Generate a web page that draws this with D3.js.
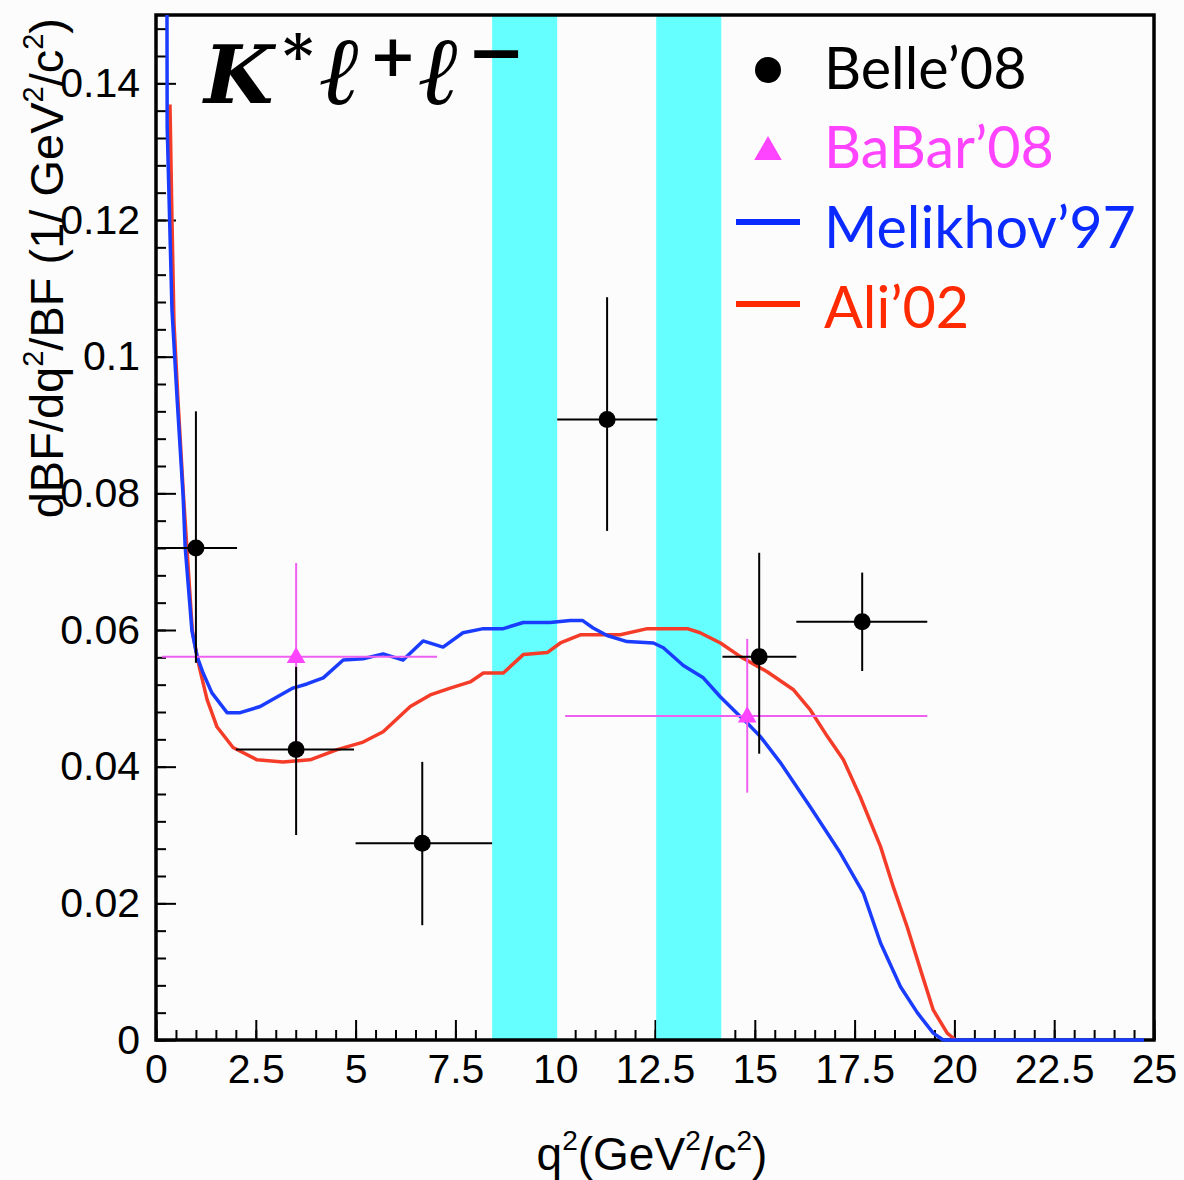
<!DOCTYPE html>
<html>
<head>
<meta charset="utf-8">
<script src="https://cdn.jsdelivr.net/npm/d3@7"></script>
<style>
  html, body { margin: 0; padding: 0; background: #fcfcfc; }
  svg { display: block; }
</style>
</head>
<body>
<svg id="chart" width="1184" height="1180"></svg>
<script>
// q^2 windows vetoed around the charmonium resonances (GeV^2/c^2)
const vetoBands = [[8.42, 10.05], [12.53, 14.16]];

// Belle'08 measurements: bin centre, value, bin edges, error bar ends
const belleX    = [1.0, 3.51, 6.67, 11.30, 15.11, 17.69];
const belleY    = [0.0720, 0.0425, 0.0288, 0.0908, 0.0561, 0.0612];
const belleXLo  = [0.0, 2.0, 5.0, 10.05, 14.19, 16.04];
const belleXHi  = [2.03, 4.96, 8.42, 12.56, 16.04, 19.32];
const belleYLo  = [0.0552, 0.0300, 0.0168, 0.0745, 0.0419, 0.0540];
const belleYHi  = [0.0920, 0.0546, 0.0407, 0.1087, 0.0713, 0.0684];

// BaBar'08 measurements
const babarX    = [3.51, 14.81];
const babarY    = [0.0561, 0.0474];
const babarXLo  = [0.15, 10.25];
const babarXHi  = [7.04, 19.32];
const babarYLo  = [0.0428, 0.0362];
const babarYHi  = [0.0698, 0.0587];

// Melikhov'97 prediction (q^2, dBF/dq^2/BF)
const melikhovQ2 = [0.26, 0.28, 0.40, 0.53, 0.68, 0.73, 0.90, 1.03, 1.18, 1.40, 1.78, 2.11, 2.61, 3.03, 3.43, 3.78, 4.19, 4.69, 5.19, 5.69, 6.19, 6.69, 7.19, 7.69, 8.20, 8.70, 9.20, 9.87, 10.38, 10.68, 10.95, 11.30, 11.80, 12.46, 12.71, 13.21, 13.71, 14.14, 14.64, 14.81, 15.14, 15.64, 16.39, 17.14, 17.72, 18.15, 18.65, 19.07, 19.47, 19.72, 24.75];
const melikhovDB = [0.2000, 0.1337, 0.1069, 0.0937, 0.0795, 0.0722, 0.0599, 0.0561, 0.0537, 0.0508, 0.0479, 0.0479, 0.0488, 0.0502, 0.0515, 0.0521, 0.0530, 0.0556, 0.0558, 0.0565, 0.0556, 0.0584, 0.0575, 0.0596, 0.0602, 0.0602, 0.0611, 0.0611, 0.0614, 0.0614, 0.0603, 0.0592, 0.0583, 0.0581, 0.0574, 0.0548, 0.0530, 0.0502, 0.0473, 0.0464, 0.0444, 0.0406, 0.0341, 0.0274, 0.0215, 0.0142, 0.0078, 0.0040, 0.0010, 0.0000, 0.0000];

// Ali'02 prediction
const aliQ2 = [0.35, 0.40, 0.45, 0.55, 0.69, 0.91, 1.03, 1.10, 1.28, 1.53, 1.93, 2.53, 3.18, 3.86, 4.54, 5.19, 5.69, 6.37, 6.87, 7.37, 7.87, 8.20, 8.70, 9.20, 9.80, 10.13, 10.63, 11.63, 12.31, 13.31, 13.63, 14.14, 14.64, 15.31, 15.96, 16.39, 16.82, 17.22, 17.64, 18.15, 18.47, 18.82, 19.15, 19.47, 19.82, 20.03];
const aliDB = [0.1369, 0.1201, 0.1050, 0.0937, 0.0795, 0.0599, 0.0561, 0.0542, 0.0498, 0.0458, 0.0428, 0.0410, 0.0407, 0.0410, 0.0425, 0.0436, 0.0451, 0.0488, 0.0505, 0.0515, 0.0524, 0.0537, 0.0537, 0.0564, 0.0567, 0.0581, 0.0593, 0.0593, 0.0602, 0.0602, 0.0596, 0.0581, 0.0561, 0.0539, 0.0513, 0.0483, 0.0444, 0.0410, 0.0356, 0.0283, 0.0224, 0.0165, 0.0103, 0.0044, 0.0010, 0.0000];

// Axis ticks
const xMajorTicks = [0, 2.5, 5, 7.5, 10, 12.5, 15, 17.5, 20, 22.5, 25];
const xTickLabels = ["0", "2.5", "5", "7.5", "10", "12.5", "15", "17.5", "20", "22.5", "25"];
const yMajorTicks = [0, 0.02, 0.04, 0.06, 0.08, 0.1, 0.12, 0.14];
const yTickLabels = ["0", "0.02", "0.04", "0.06", "0.08", "0.1", "0.12", "0.14"];

const legendLabels = ["Belle\u201908", "BaBar\u201908", "Melikhov\u201997", "Ali\u201902"];

const COL = {
  belle: "#000000",
  babar: "#ff44ff",
  babarBar: "#f060f0",
  melikhov: "#1a3cff",
  ali: "#f43c28",
  band: "#66ffff",
  legMelikhov: "#0a2aff",
  legAli: "#ff2a00"
};

const svg = d3.select("#chart");
const L = 156, R = 1154, T = 15, B = 1040;

const x = d3.scaleLinear().domain([0, 25]).range([L, R]);
const y = d3.scaleLinear().domain([0, 0.15]).range([B, T]);

svg.append("defs").append("clipPath").attr("id", "plotClip")
  .append("rect").attr("x", L).attr("y", T).attr("width", R - L + 1).attr("height", B - T + 3);

const tickFont = "'Liberation Sans', Arial, Helvetica, sans-serif";

// minor and major ticks, pointing into the frame
const xMinor = d3.range(0, 25.001, 0.5);
const yMinor = d3.range(0, 0.1481, 0.004);

svg.append("g").attr("transform", `translate(0,${B})`)
  .call(d3.axisBottom(x).tickValues(xMinor).tickSize(-10).tickFormat(""))
  .call(g => g.select(".domain").remove())
  .call(g => g.selectAll("line").attr("stroke", "#000").attr("stroke-width", 2));

svg.append("g").attr("transform", `translate(0,${B})`)
  .call(d3.axisBottom(x).tickValues(xMajorTicks).tickSize(-20).tickPadding(14)
    .tickFormat((d, i) => xTickLabels[i]))
  .call(g => g.select(".domain").remove())
  .call(g => g.selectAll("line").attr("stroke", "#000").attr("stroke-width", 2))
  .call(g => g.selectAll("text").attr("font-family", tickFont).attr("font-size", 41)
    .attr("fill", "#000").attr("dy", "0.71em"));

svg.append("g").attr("transform", `translate(${L},0)`)
  .call(d3.axisLeft(y).tickValues(yMinor).tickSize(-10).tickFormat(""))
  .call(g => g.select(".domain").remove())
  .call(g => g.selectAll("line").attr("stroke", "#000").attr("stroke-width", 2));

svg.append("g").attr("transform", `translate(${L},0)`)
  .call(d3.axisLeft(y).tickValues(yMajorTicks).tickSize(-20).tickPadding(16)
    .tickFormat((d, i) => yTickLabels[i]))
  .call(g => g.select(".domain").remove())
  .call(g => g.selectAll("line").attr("stroke", "#000").attr("stroke-width", 2))
  .call(g => g.selectAll("text").attr("font-family", tickFont).attr("font-size", 41)
    .attr("fill", "#000"));

// resonance veto bands
svg.append("g").selectAll("rect").data(vetoBands).join("rect")
  .attr("x", d => x(d[0])).attr("width", d => x(d[1]) - x(d[0]))
  .attr("y", T).attr("height", B - T)
  .attr("fill", COL.band);

// frame
svg.append("rect").attr("x", L).attr("y", T).attr("width", R - L).attr("height", B - T)
  .attr("fill", "none").attr("stroke", "#000").attr("stroke-width", 3.5);

// theory curves
const line = d3.line().x(d => x(d[0])).y(d => y(d[1]));
const curves = svg.append("g").attr("clip-path", "url(#plotClip)");
curves.append("path").datum(d3.zip(aliQ2, aliDB))
  .attr("d", line).attr("fill", "none").attr("stroke", COL.ali)
  .attr("stroke-width", 3.5).attr("stroke-linejoin", "round");
curves.append("path").datum(d3.zip(melikhovQ2, melikhovDB))
  .attr("d", line).attr("fill", "none").attr("stroke", COL.melikhov)
  .attr("stroke-width", 3.5).attr("stroke-linejoin", "round");

// BaBar points
const babar = svg.append("g");
babarX.forEach((bx, i) => {
  babar.append("line").attr("x1", x(babarXLo[i])).attr("x2", x(babarXHi[i]))
    .attr("y1", y(babarY[i])).attr("y2", y(babarY[i]))
    .attr("stroke", COL.babarBar).attr("stroke-width", 2);
  babar.append("line").attr("x1", x(bx)).attr("x2", x(bx))
    .attr("y1", y(babarYLo[i])).attr("y2", y(babarYHi[i]))
    .attr("stroke", COL.babarBar).attr("stroke-width", 2);
});
babar.selectAll("path").data(d3.zip(babarX, babarY)).join("path")
  .attr("d", d3.symbol(d3.symbolTriangle, 150))
  .attr("transform", d => `translate(${x(d[0])},${y(d[1]) + 1})`)
  .attr("fill", COL.babar);

// Belle points
const belle = svg.append("g");
belleX.forEach((bx, i) => {
  belle.append("line").attr("x1", x(belleXLo[i])).attr("x2", x(belleXHi[i]))
    .attr("y1", y(belleY[i])).attr("y2", y(belleY[i]))
    .attr("stroke", COL.belle).attr("stroke-width", 2);
  belle.append("line").attr("x1", x(bx)).attr("x2", x(bx))
    .attr("y1", y(belleYLo[i])).attr("y2", y(belleYHi[i]))
    .attr("stroke", COL.belle).attr("stroke-width", 2);
});
belle.selectAll("circle").data(d3.zip(belleX, belleY)).join("circle")
  .attr("cx", d => x(d[0])).attr("cy", d => y(d[1])).attr("r", 8.5)
  .attr("fill", COL.belle);

// axis titles
const xt = svg.append("text").attr("x", 652).attr("y", 1170).attr("text-anchor", "middle")
  .attr("font-family", tickFont).attr("font-size", 46).attr("fill", "#000");
xt.append("tspan").text("q");
xt.append("tspan").attr("font-size", 28).attr("dy", -20).text("2");
xt.append("tspan").attr("dy", 20).text("(GeV");
xt.append("tspan").attr("font-size", 28).attr("dy", -20).text("2");
xt.append("tspan").attr("dy", 20).text("/c");
xt.append("tspan").attr("font-size", 28).attr("dy", -20).text("2");
xt.append("tspan").attr("dy", 20).text(")");

const yt = svg.append("text").attr("transform", "translate(63,18) rotate(-90)")
  .attr("text-anchor", "end")
  .attr("font-family", tickFont).attr("font-size", 47).attr("fill", "#000");
yt.append("tspan").text("dBF/dq");
yt.append("tspan").attr("font-size", 29).attr("dy", -20).text("2");
yt.append("tspan").attr("dy", 20).text("/BF (1/ GeV");
yt.append("tspan").attr("font-size", 29).attr("dy", -20).text("2");
yt.append("tspan").attr("dy", 20).text("/c");
yt.append("tspan").attr("font-size", 29).attr("dy", -20).text("2");
yt.append("tspan").attr("dy", 20).text(")");

// decay channel label
const ch = svg.append("text").attr("y", 103)
  .attr("font-family", "'DejaVu Serif', 'Liberation Serif', serif")
  .attr("font-weight", "bold").attr("font-style", "italic")
  .attr("font-size", 80).attr("fill", "#000");
ch.append("tspan").attr("x", 204).text("K");
ch.append("tspan").attr("x", 283).attr("y", 76).attr("font-size", 58).text("*");
ch.append("tspan").attr("x", 320).attr("y", 104).attr("font-size", 96).text("\u2113");
ch.append("tspan").attr("x", 369).attr("y", 76).attr("font-size", 57).text("+");
ch.append("tspan").attr("x", 419).attr("y", 104).attr("font-size", 96).text("\u2113");
ch.append("tspan").attr("x", 467).attr("y", 76).attr("font-size", 70).text("\u2212");

// legend
const legFont = "Lato, 'Open Sans', sans-serif";
const legY = [89, 168, 248, 328];
const legCol = [COL.belle, COL.babar, COL.legMelikhov, COL.legAli];
const leg = svg.append("g");
leg.selectAll("text").data(legendLabels).join("text")
  .attr("x", 824).attr("y", (d, i) => legY[i])
  .attr("font-family", legFont).attr("font-size", 57.5)
  .attr("fill", (d, i) => legCol[i]).text(d => d);
leg.append("circle").attr("cx", 768).attr("cy", 70).attr("r", 13).attr("fill", COL.belle);
leg.append("path").attr("d", d3.symbol(d3.symbolTriangle, 330))
  .attr("transform", "translate(768,152)").attr("fill", COL.babar);
leg.append("line").attr("x1", 736).attr("x2", 800).attr("y1", 222).attr("y2", 222)
  .attr("stroke", COL.legMelikhov).attr("stroke-width", 6);
leg.append("line").attr("x1", 736).attr("x2", 800).attr("y1", 304).attr("y2", 304)
  .attr("stroke", COL.legAli).attr("stroke-width", 6);
</script>
</body>
</html>
